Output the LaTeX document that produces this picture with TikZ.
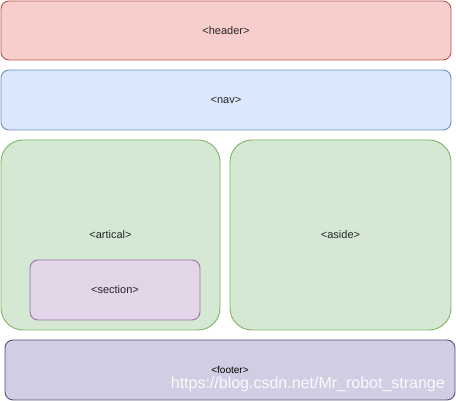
\documentclass[tikz,border=0pt]{standalone}
\usepackage{fontspec}
\setmainfont{Liberation Sans}
\usepackage{tikz}
\definecolor{hdrfill}{HTML}{F8CECC}
\definecolor{hdrline}{HTML}{B85450}
\definecolor{navfill}{HTML}{DAE8FC}
\definecolor{navline}{HTML}{6C8EBF}
\definecolor{grnfill}{HTML}{D5E8D4}
\definecolor{grnline}{HTML}{82B366}
\definecolor{purfill}{HTML}{E1D5E7}
\definecolor{purline}{HTML}{9673A6}
\definecolor{ftrfill}{HTML}{D0CEE2}
\definecolor{ftrline}{HTML}{56517E}
\tikzset{
  block/.style={draw, line width=0.9pt, rounded corners=8pt, inner sep=0pt, outer sep=0pt,
    font=\fontsize{11}{13}\selectfont, text=black!85},
  bigblock/.style={block, rounded corners=22pt}
}

\begin{document}
\begin{tikzpicture}[x=1pt,y=-1pt]
                \useasboundingbox (0,0) rectangle (456,401);
                \node[block,fill=hdrfill,draw=hdrline,minimum width=450pt,minimum height=59pt] (header) at (226,30.5) {<header>};
                \node[block,fill=navfill,draw=navline,minimum width=450pt,minimum height=60pt] (nav) at (226,100) {<nav>};
                \node[bigblock,fill=grnfill,draw=grnline,minimum width=219pt,minimum height=190pt] (artical) at (110.5,235) {<artical>};
                \node[bigblock,fill=grnfill,draw=grnline,minimum width=221pt,minimum height=190pt] (aside) at (340.5,235) {<aside>};
                \node[block,fill=purfill,draw=purline,minimum width=170pt,minimum height=60pt] (section) at (115,290) {<section>};
                \node[block,fill=ftrfill,draw=ftrline,minimum width=450pt,minimum height=60pt] (footer) at (230,370) {};
                \node[font=\fontsize{10}{12}\selectfont] (ftrtext) at (230,370) {<footer>};
                \node[font=\fontsize{16}{18}\selectfont, text=white, text opacity=0.9, anchor=east, inner sep=0pt] (mark) at (445,384) {https://blog.csdn.net/Mr\_robot\_strange};
\end{tikzpicture}
\end{document}
